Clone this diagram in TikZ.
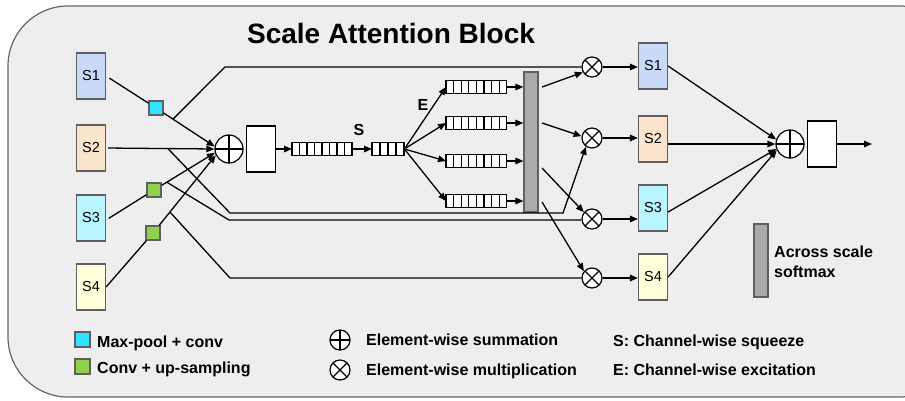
\documentclass[tikz,border=0pt]{standalone}
\usepackage{fontspec}
\setmainfont{Liberation Sans}
\usepackage{tikz}
\usetikzlibrary{positioning,arrows.meta,calc}
\usepackage{xcolor}

\definecolor{panelbg}{HTML}{EEEEEE}
\definecolor{panelline}{HTML}{666666}
\definecolor{boxline}{HTML}{5F5F5F}
\definecolor{scaleone}{HTML}{C9DAF8}
\definecolor{scaletwo}{HTML}{FCE5CD}
\definecolor{scalethree}{HTML}{B9F5FF}
\definecolor{scalefour}{HTML}{FFFFD9}
\definecolor{poolcyan}{HTML}{2FE4FF}
\definecolor{upgreen}{HTML}{8FD14F}
\definecolor{softgray}{HTML}{AAAAAA}

\tikzset{
    scalebox/.style={draw=boxline, line width=1.2pt, minimum width=29pt, minimum height=46pt, inner sep=0pt, font=\fontsize{14.5}{16}\selectfont},
    opbox/.style={draw=boxline, line width=1.2pt, minimum size=14pt, inner sep=0pt},
    sumop/.style={circle, draw, fill=white, line width=1.2pt, minimum size=28pt, inner sep=0pt,
        path picture={\draw[line width=1.2pt] (path picture bounding box.north) -- (path picture bounding box.south)
            (path picture bounding box.west) -- (path picture bounding box.east);}},
    mulop/.style={circle, draw, fill=white, line width=1.2pt, minimum size=20pt, inner sep=0pt,
        path picture={\draw[line width=1.2pt] (path picture bounding box.north west) -- (path picture bounding box.south east)
            (path picture bounding box.north east) -- (path picture bounding box.south west);}},
    mixbox/.style={draw, fill=white, line width=1.2pt, minimum width=29pt, minimum height=46pt, inner sep=0pt},
    softbar/.style={draw=boxline, fill=softgray, line width=1.2pt, minimum width=14pt, inner sep=0pt},
    cellline/.style={draw, fill=white, line width=1.2pt},
    link/.style={line width=1.3pt},
    flow/.style={link, -{Triangle[length=8pt,width=6.5pt]}},
    tag/.style={font=\bfseries\fontsize{16}{19}\selectfont, anchor=base, inner sep=0pt},
    legtext/.style={font=\bfseries\fontsize{16}{19}\selectfont, anchor=base west, inner sep=0pt},
}

% channel vector: name, west x, y, cells, cell width
\newcommand{\featbar}[5]{%
    \foreach \c in {1,...,#4} {
        \draw[cellline] ({#2+(\c-1)*#5},{#3-6.5}) rectangle ({#2+\c*#5},{#3+6.5});
    }
    \node[inner sep=0pt, minimum width={#4*#5pt}, minimum height=13pt, anchor=west] (#1) at (#2,#3) {};
}

\begin{document}
\begin{tikzpicture}[x=1pt, y=-1pt]

    \useasboundingbox (0,0) rectangle (905,400);
    \clip (0,0) rectangle (905,400);

    % =========================================================================
    % PANEL AND TITLE
    % =========================================================================
    \draw[panelline, fill=panelbg, line width=1.2pt, rounded corners=60pt] (8,6) rectangle (960,397);
    \node[font=\bfseries\fontsize{28}{32}\selectfont, anchor=base, inner sep=0pt] (title) at (391,43) {Scale Attention Block};

    % =========================================================================
    % INPUT SCALES AND RESAMPLING
    % =========================================================================
    \foreach \i/\y/\c in {1/76/scaleone, 2/148/scaletwo, 3/218/scalethree, 4/287/scalefour} {
        \node[scalebox, fill=\c] (ls\i) at (91,\y) {S\i};
    }
    \node[opbox, fill=poolcyan] (pool) at (156,108) {};
    \node[opbox, fill=upgreen] (upA) at (154,190) {};
    \node[opbox, fill=upgreen] (upB) at (153,233) {};

    \node[sumop] (sumL) at (229,149) {};
    \node[mixbox, right=2pt of sumL] (mixL) {};

    \draw[link, shorten <=4pt] (ls1.east) -- (pool);
    \draw[flow] (pool) -- (sumL.170);
    \draw[flow, shorten <=2pt] (ls2.east) -- (sumL.west);
    \draw[link, shorten <=3pt] ($(ls3.east)+(0,2)$) -- (upA);
    \draw[flow] (upA) -- (sumL.195);
    \draw[link] (ls4.east) -- (upB);
    \draw[flow] (upB) -- (sumL.205);

    % =========================================================================
    % SQUEEZE, EXCITATION AND SOFTMAX
    % =========================================================================
    \featbar{sqA}{292}{149}{8}{7.5}
    \featbar{sqB}{372}{149}{4}{8}
    \foreach \i/\y in {1/87, 2/123, 3/161, 4/201} {
        \featbar{ex\i}{446}{\y}{8}{7.6}
    }
    \node[tag] (sqtag) at (359,135) {S};
    \node[tag] (extag) at (423,110) {E};

    \node[softbar, minimum height=140pt] (soft) at (531,142) {};

    \draw[flow] (mixL.east) -- (sqA.west);
    \draw[flow] (sqA.east) -- (sqB.west);
    \foreach \i in {1,...,4} {
        \draw[flow] (sqB.east) -- (ex\i.west);
        \draw[flow] (ex\i.east) -- (ex\i.east -| soft.west);
    }

    % =========================================================================
    % RESCALING AND FUSION
    % =========================================================================
    \foreach \i/\y in {1/67, 2/138, 3/219, 4/278} {
        \node[mulop] (mul\i) at (592,\y) {};
    }
    \foreach \i/\y/\c in {1/66/scaleone, 2/139/scaletwo, 3/208/scalethree, 4/277/scalefour} {
        \node[scalebox, fill=\c] (rs\i) at (653,\y) {S\i};
    }
    \node[sumop] (sumR) at (790,144) {};
    \node[mixbox, right=2pt of sumR] (mixR) {};
    \coordinate (out) at (872,144);

    % skip paths of the four scales
    \coordinate (brA) at ($(pool)!0.29!(sumL.170)$);
    \coordinate (brB) at ($(ls2.east)!0.57!(sumL.west)$);
    \coordinate (brC) at ($(upA)!0.21!(sumL.195)$);
    \coordinate (brD) at ($(upB)!0.27!(sumL.205)$);
    \coordinate (kA) at (225,67);
    \coordinate (kB1) at (230,213);
    \coordinate (kB2) at (563,213);
    \coordinate (kC) at (229,220);
    \coordinate (kD) at (230,278);

    \draw[link] (brA) -- (kA) -- (mul1.west);
    \draw[flow] (brB) -- (kB1) -- (kB2) -- (mul2.235);
    \draw[link] (brC) -- (kC) -- (kC -| mul3.west);
    \draw[link] (brD) -- (kD) -- (mul4.west);

    % attention weights
    \foreach \i/\y/\a in {1/87/210, 2/123/170, 3/168/140, 4/202/140} {
        \coordinate (sm\i) at (542,\y);
        \draw[flow] (sm\i) -- (mul\i.\a);
    }

    \foreach \i in {1,...,4} {
        \draw[flow] (mul\i.east) -- (mul\i.east -| rs\i.west);
    }
    \foreach \i/\d/\a in {1/0/162, 2/5/180, 3/4/200, 4/0/205} {
        \draw[flow] ($(rs\i.east)+(0,\d)$) -- (sumR.\a);
    }
    \draw[flow] (mixR.east) -- (out);

    % =========================================================================
    % LEGEND
    % =========================================================================
    \node[softbar, minimum height=73pt] (softkey) at (761,260.5) {};
    \node[legtext] (softtxtA) at (774,257) {Across scale};
    \node[legtext] (softtxtB) at (774,277) {softmax};

    \node[opbox, fill=poolcyan, minimum size=15pt] (keypool) at (82.5,339.5) {};
    \node[legtext] (keypooltxt) at (97,347) {Max-pool + conv};
    \node[opbox, fill=upgreen, minimum size=15pt] (keyup) at (82.5,366.5) {};
    \node[legtext] (keyuptxt) at (97,373) {Conv + up-sampling};

    \node[sumop, minimum size=20pt] (keysum) at (340,340) {};
    \node[legtext] (keysumtxt) at (366,345) {Element-wise summation};
    \node[mulop] (keymul) at (340,370) {};
    \node[legtext] (keymultxt) at (366,375) {Element-wise multiplication};

    \node[legtext] (keysq) at (613,346) {S: Channel-wise squeeze};
    \node[legtext] (keyex) at (613,375) {E: Channel-wise excitation};

\end{tikzpicture}
\end{document}
